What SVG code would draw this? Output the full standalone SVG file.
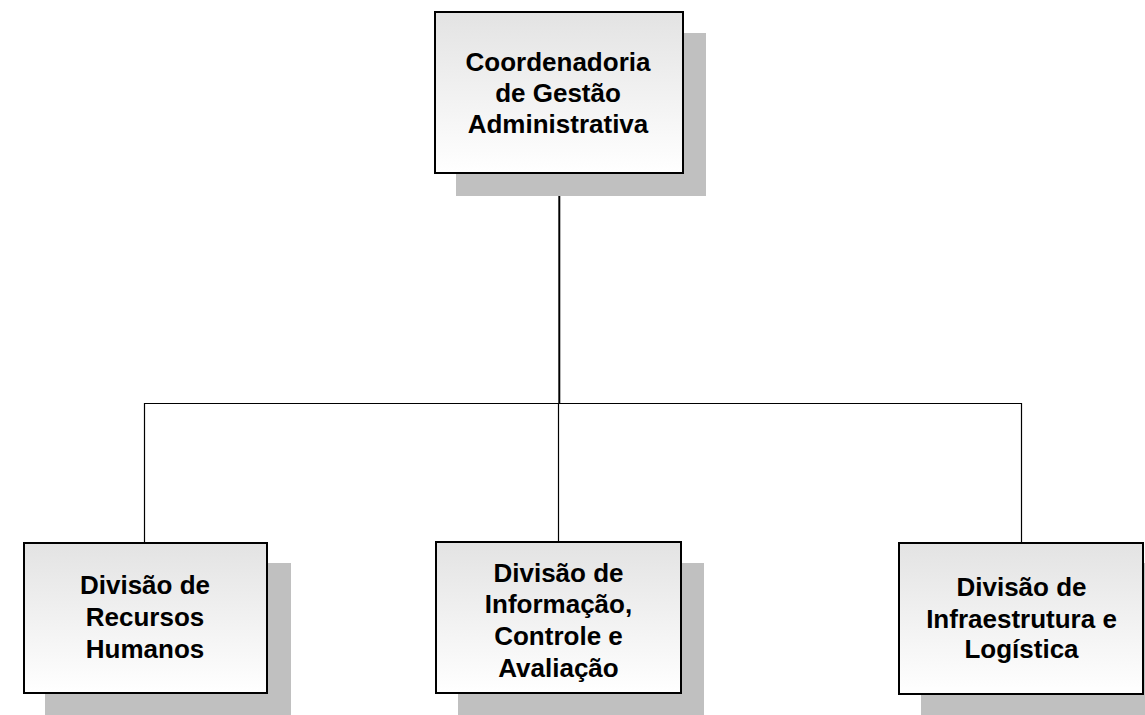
<svg xmlns="http://www.w3.org/2000/svg" width="1145" height="715" viewBox="0 0 1145 715">
<defs>
<linearGradient id="g" x1="0" y1="0" x2="0" y2="1">
<stop offset="0" stop-color="#e3e3e3"/>
<stop offset="1" stop-color="#ffffff"/>
</linearGradient>
</defs>
<style>
.sh{fill:#c0c0c0}
.bx{fill:url(#g);stroke:#000;stroke-width:2}
.t{font-family:"Liberation Sans",Arial,sans-serif;font-weight:bold;font-size:26px;fill:#000;text-anchor:middle}
.c{stroke:#000;fill:none}
</style>
<rect width="1145" height="715" fill="#fff"/>
<g id="connectors">
<line class="c" x1="559.3" y1="173" x2="559.3" y2="404" stroke-width="2"/>
<line class="c" x1="144.5" y1="403.5" x2="1021.5" y2="403.5" stroke-width="1.2" stroke="#333"/>
<line class="c" x1="144.5" y1="403" x2="144.5" y2="543" stroke-width="1.2" stroke="#333"/>
<line class="c" x1="558.5" y1="403" x2="558.5" y2="542" stroke-width="1.2"/>
<line class="c" x1="1021.5" y1="403" x2="1021.5" y2="543" stroke-width="1.2" stroke="#333"/>
</g>
<g id="top">
<rect class="sh" x="456" y="33" width="250" height="163"/>
<rect class="bx" x="435" y="12" width="248" height="161"/>
<text class="t" x="558" y="71">Coordenadoria</text>
<text class="t" x="558" y="102">de Gestão</text>
<text class="t" x="558" y="133">Administrativa</text>
</g>
<g id="rh">
<rect class="sh" x="45" y="563" width="246" height="153"/>
<rect class="bx" x="24" y="543" width="243" height="150"/>
<text class="t" x="145" y="594">Divisão de</text>
<text class="t" x="145" y="626">Recursos</text>
<text class="t" x="145" y="658">Humanos</text>
</g>
<g id="ica">
<rect class="sh" x="458" y="563" width="246" height="153"/>
<rect class="bx" x="436" y="542" width="245" height="151"/>
<text class="t" x="558.5" y="582">Divisão de</text>
<text class="t" x="558.5" y="613">Informação,</text>
<text class="t" x="558.5" y="645">Controle e</text>
<text class="t" x="558.5" y="677">Avaliação</text>
</g>
<g id="il">
<rect class="sh" x="921" y="563" width="246" height="153"/>
<rect class="bx" x="899" y="543" width="244" height="151"/>
<text class="t" x="1021.5" y="596">Divisão de</text>
<text class="t" x="1021.5" y="628">Infraestrutura e</text>
<text class="t" x="1021.5" y="658">Logística</text>
</g>
</svg>
